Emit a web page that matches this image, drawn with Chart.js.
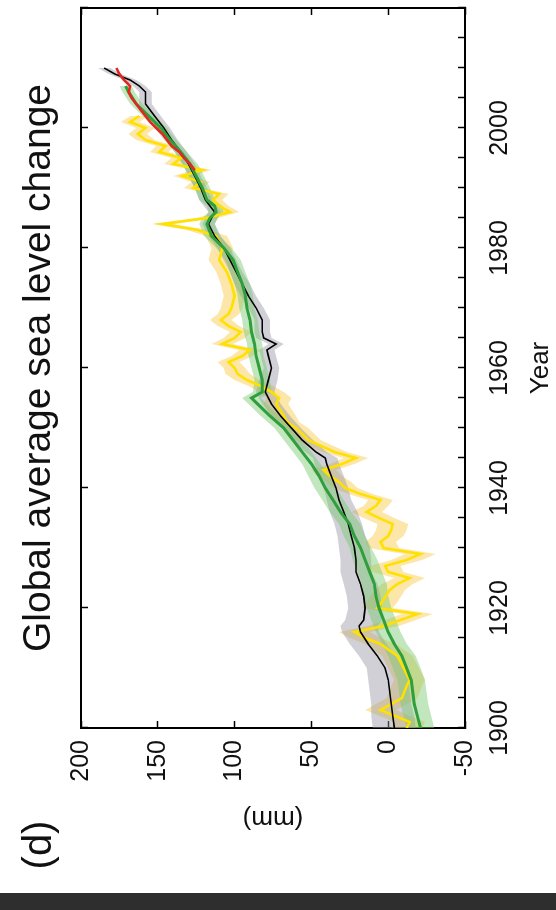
<!DOCTYPE html>
<html><head><meta charset="utf-8">
<script src="https://cdn.jsdelivr.net/npm/chart.js@4.4.1/dist/chart.umd.min.js"></script>
<style>
html,body{margin:0;padding:0;background:#fff;width:556px;height:910px;overflow:hidden;}
#c{position:absolute;left:0;top:0;transform-origin:0 0;transform:translate(0px,910px) rotate(-90deg);}
</style></head><body>
<canvas id="c" width="910" height="556" style="width:910px;height:556px"></canvas>
<script>
// ---- data (mm, relative) ----
const blackYears = [1900,1902,1904,1906,1908,1910,1912,1914,1916,1917,1918,1920,1922,1924,1926,1928,1930,1932,1934,1936,1938,1940,1942,1944,1945,1946,1948,1950,1952,1954,1956,1958,1960,1962,1963,1964,1965,1966,1968,1970,1972,1974,1976,1978,1980,1982,1984,1986,1988,1990,1992,1994,1996,1998,2000,2002,2004,2006,2007,2008,2009,2010];
const blackMm = [-4,-3,-2,-1,0,2,7,13,18,19,16,15,16,18,21,21,22,24,26,29,32,34,37,40,41,47,56,63,70,76,80,78,76,78,79,73,81,82,82,86,91,95,99,103,107,113,117,113,119,122,126,130,135,141,146,152,158,158,162,168,178,185];
const blackUnc = [14,14,13,13,13,12,12,12,12,12,12,11,11,11,10,10,10,9,9,9,8,8,8,8,8,7,7,6,6,6,6,6,5,5,5,5,5,5,5,5,5,5,4,4,4,4,4,4,4,4,4,4,4,4,4,4,4,4,4,4,4,4];

const greenYears = [1900,1902,1904,1906,1908,1910,1912,1914,1916,1918,1920,1922,1924,1926,1928,1930,1932,1934,1936,1938,1940,1942,1944,1946,1948,1950,1952,1954,1955,1956,1958,1960,1962,1964,1966,1968,1970,1972,1974,1976,1978,1980,1982,1984,1985,1986,1987,1988,1990,1992,1994,1996,1998,2000,2002,2004,2006,2007];
const greenMm = [-21,-19,-17,-16,-15,-12,-9,-4,0,3,6,8,9,12,15,18,22,25,31,36,41,45,50,56,62,68,77,85,89,82,82,84,86,87,89,90,92,93,95,98,101,107,115,118,116,112,113,118,121,125,129,135,142,148,156,164,169,171];
const greenUnc = [9,9,9,9,9,9,9,8,8,8,8,8,8,8,8,7,7,7,7,7,7,7,6,6,6,6,6,6,6,6,5,5,5,5,5,5,5,5,5,5,5,5,5,5,5,5,5,5,5,5,5,4,4,4,4,4,4,4];

const yellowYears = [1900,1901,1903,1904,1905,1907,1908,1910,1912,1914,1915,1916,1917,1919,1920,1921,1923,1924,1925,1926,1927,1928,1929,1930,1931,1932,1933,1934,1935,1936,1937,1938,1939,1940,1941,1942,1943,1944,1945,1946,1948,1950,1951,1952,1954,1955,1956,1957,1958,1959,1960,1961,1962,1963,1964,1965,1966,1967,1968,1969,1970,1972,1974,1976,1978,1980,1982,1983,1984,1985,1986,1987,1988,1989,1990,1991,1992,1993,1994,1995,1996,1997,1998,1999,2000,2001,2002];
const yellowMm = [-12,-14,5,-2,-9,-12,-14,-10,-6,5,15,22,3,-19,7,4,-1,-6,-14,0,2,-12,-21,3,5,0,-2,-3,6,14,8,5,18,28,32,38,42,30,21,35,52,60,66,68,73,71,76,83,92,98,100,104,95,90,108,100,96,104,109,104,102,100,102,105,110,108,112,124,147,118,103,110,114,110,127,122,134,121,140,135,149,145,158,163,158,168,162];
const yellowUnc = [10,10,10,10,10,10,10,10,10,10,10,10,10,10,10,10,10,10,10,10,10,10,10,10,10,10,10,10,10,10,8,8,8,8,8,8,8,8,8,8,8,8,8,8,8,8,8,8,8,8,7,7,7,7,7,7,7,7,7,7,7,7,7,7,7,7,7,7,7,7,6,6,6,6,6,6,6,6,6,6,6,6,6,6,6,6,6];

const redYears = [1993,1994,1995,1996,1997,1998,1999,2000,2001,2002,2003,2004,2005,2006,2007,2008,2009,2010];
const redMm = [126,129,133,136,141,144,147,151,155,158,161,164,167,169,168,172,175,177];

const yearTicks = [1900,1920,1940,1960,1980,2000];
const mmTicks = [-50,0,50,100,150,200];

// ---- build ----
const pts = (xs, ys) => xs.map((x, i) => ({x, y: ys[i]}));
const band = (xs, ys, us, s) => xs.map((x, i) => ({x, y: ys[i] + s * us[i]}));

Chart.defaults.font.family = "'Liberation Sans', Arial, Helvetica, sans-serif";
Chart.defaults.color = '#111';

const lineDs = (data, color, w, order) => ({data, order, borderColor: color, borderWidth: w, pointRadius: 0, tension: 0, fill: false, xAxisID: 'x', yAxisID: 'y'});
const bandDs = (data, color, target, order) => ({data, order, borderWidth: 0, borderColor: 'rgba(0,0,0,0)', backgroundColor: color, pointRadius: 0, tension: 0, fill: target, xAxisID: 'x', yAxisID: 'y'});

const datasets = [
  lineDs(pts(redYears, redMm), '#e3261f', 2.6, 0),                       // 0
  lineDs(pts(greenYears, greenMm), '#2f9e3c', 3, 1),                     // 1
  lineDs(pts(blackYears, blackMm), '#000000', 1.6, 2),                   // 2
  lineDs(pts(yellowYears, yellowMm), '#ffe100', 2.6, 3),                 // 3
  bandDs(band(greenYears, greenMm, greenUnc, 1), 'rgba(120,200,110,0.45)', 5, 4),   // 4
  bandDs(band(greenYears, greenMm, greenUnc, -1), 'rgba(0,0,0,0)', false, 5),       // 5
  bandDs(band(blackYears, blackMm, blackUnc, 1), 'rgba(150,150,165,0.45)', 7, 6),   // 6
  bandDs(band(blackYears, blackMm, blackUnc, -1), 'rgba(0,0,0,0)', false, 7),       // 7
  bandDs(band(yellowYears, yellowMm, yellowUnc, 1), 'rgba(250,195,50,0.42)', 9, 8), // 8
  bandDs(band(yellowYears, yellowMm, yellowUnc, -1), 'rgba(0,0,0,0)', false, 9)     // 9
];

const gridOpt = {drawOnChartArea: false, drawTicks: true, tickLength: -7, tickColor: '#000', tickWidth: 1.5, color: '#000'};
const borderOpt = {display: true, color: '#000', width: 2};
const noPad = s => { s.paddingLeft = 0; s.paddingRight = 0; s.paddingTop = 0; s.paddingBottom = 0; };

const extras = {
  id: 'extras',
  beforeDraw(chart) {
    const ctx = chart.ctx;
    ctx.save();
    ctx.fillStyle = '#2e2e2e';
    ctx.fillRect(0, 0, 17, chart.height);
    ctx.restore();
  },
  afterDraw(chart) {
    const ctx = chart.ctx;
    ctx.save();
    ctx.font = "40px 'Liberation Sans', Arial, sans-serif";
    ctx.fillStyle = '#111';
    ctx.textAlign = 'center';
    ctx.textBaseline = 'middle';
    ctx.fillText('(d)', 65, 40);
    ctx.restore();
  }
};

new Chart(document.getElementById('c'), {
  type: 'line',
  data: {datasets},
  plugins: [extras],
  options: {
    responsive: false,
    animation: false,
    devicePixelRatio: 1,
    layout: {padding: {left: 0, right: 8, top: 0, bottom: 0}},
    plugins: {
      legend: {display: false},
      tooltip: {enabled: false},
      title: {display: true, fullSize: false, text: 'Global average sea level change', color: '#111',
        font: {size: 39, weight: 'normal'}, padding: {top: 16, bottom: 18.2}}
    },
    scales: {
      x: {type: 'linear', position: 'bottom', min: 1900, max: 2020,
        ticks: {stepSize: 5, autoSkip: false, maxRotation: 0, minRotation: 0, padding: 27, color: '#111',
          font: {size: 25}, callback: v => yearTicks.includes(v) ? String(v) : ''},
        grid: gridOpt, border: borderOpt,
        title: {display: true, text: 'Year', color: '#111', font: {size: 26, lineHeight: 1}, padding: {top: 0, bottom: 2}},
        afterFit: s => { s.height = 91; noPad(s); }},
      x2: {type: 'linear', position: 'top', min: 1900, max: 2020,
        ticks: {stepSize: 20, display: false, autoSkip: false},
        grid: gridOpt, border: borderOpt,
        afterFit: s => { s.height = 0; noPad(s); }},
      y: {type: 'linear', position: 'left', min: -50, max: 200,
        ticks: {stepSize: 50, padding: 19, color: '#111', font: {size: 25}, callback: v => mmTicks.includes(v) ? String(v) : ''},
        grid: gridOpt, border: borderOpt,
        title: {display: true, text: '(mm)', color: '#111', font: {size: 26}, padding: {top: 76, bottom: 0}},
        afterFit: s => { s.width = 182; noPad(s); }},
      y2: {type: 'linear', position: 'right', min: -50, max: 200,
        ticks: {stepSize: 50, display: false},
        grid: gridOpt, border: borderOpt,
        afterFit: s => { s.width = 0; noPad(s); }}
    }
  }
});
</script></body></html>
